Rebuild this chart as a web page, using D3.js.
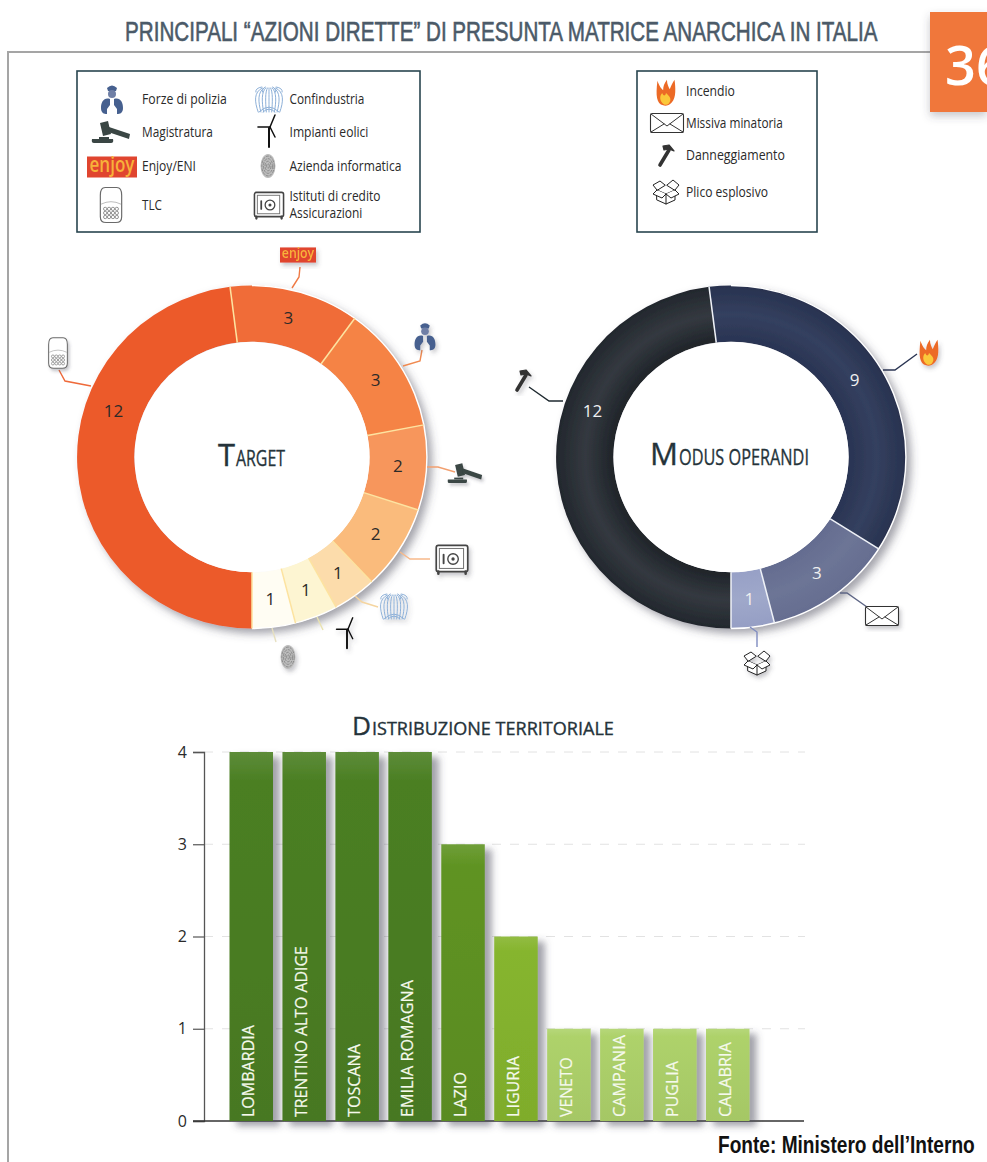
<!DOCTYPE html>
<html><head><meta charset="utf-8">
<script src="https://cdn.jsdelivr.net/npm/d3@7/dist/d3.min.js"></script>
<style>html,body{margin:0;padding:0;background:#fff;overflow:hidden}svg{display:block}text{font-family:"Open Sans",sans-serif}</style>
</head><body><svg id="c" width="987" height="1162"></svg>
<script>
// ---- data ----
const targetNames=["TLC","Enjoy/ENI","Forze di polizia","Magistratura","Istituti di credito Assicurazioni","Confindustria","Impianti eolici","Azienda informatica"];
const targetValues=[12,3,3,2,2,1,1,1];
const targetColors=["#ec5a2c","#f06c38","#f58345","#f7965b","#fabb7c","#fcdcab","#fdf5d2","#fffdf3"];
const modusNames=["Danneggiamento","Incendio","Missiva minatoria","Plico esplosivo"];
const modusValues=[12,9,3,1];
const regions=["LOMBARDIA","TRENTINO ALTO ADIGE","TOSCANA","EMILIA ROMAGNA","LAZIO","LIGURIA","VENETO","CAMPANIA","PUGLIA","CALABRIA"];
const regionValues=[4,4,4,4,3,2,1,1,1,1];
const regionColors=["#4b7f23","#4b7f23","#4b7f23","#4b7f23","#5f9322","#86b52e","#aed26b","#aed26b","#aed26b","#aed26b"];
const yTicks=[0,1,2,3,4];

const svg=d3.select("#c"),defs=svg.append("defs");
const shadow=(id,dx,dy,b,o)=>{defs.append("filter").attr("id",id).attr("x","-30%").attr("y","-20%").attr("width","170%").attr("height","150%")
 .append("feDropShadow").attr("dx",dx).attr("dy",dy).attr("stdDeviation",b).attr("flood-color","#445").attr("flood-opacity",o)};
shadow("ds",5,5,4,.5);shadow("bs",7,5,3.5,.5);shadow("is",2,3,2,.3);shadow("tab",0,4,4,.3);
const radial=(id,a,b,c)=>{const g=defs.append("radialGradient").attr("id",id).attr("gradientUnits","userSpaceOnUse").attr("cx",0).attr("cy",0).attr("r",172);
 [[.67,a],[.83,b],[1,c]].forEach(s=>g.append("stop").attr("offset",s[0]).attr("stop-color",s[1]))};
radial("m0","#1f2429","#343940","#22272d");radial("m1","#2a3453","#34405f","#28324f");radial("m2","#646c90","#6d7596","#656d90");radial("m3","#97a0c6","#9fa8ca","#959ec4");
const modusFills=["url(#m0)","url(#m1)","url(#m2)","url(#m3)"];
regionColors.forEach((c,i)=>{const g=defs.append("linearGradient").attr("id","b"+i).attr("x1",0).attr("x2",0).attr("y1",0).attr("y2",1);
 const h=d3.color(c);[[0,d3.interpolateRgb(c,"#fff")(.1)],[.08,c],[1,h.darker(.15)]].forEach(s=>g.append("stop").attr("offset",s[0]).attr("stop-color",s[1]));});

// ---- text helper: squeezes a text to a measured width ----
function fit(sel,x,y,len,rot){const w=sel.node().getComputedTextLength()||len;
 return sel.attr("text-anchor","start").attr("transform",`translate(${x},${y})${rot?` rotate(${rot})`:""} scale(${len/w},1)`)}
const NARROW='"Liberation Sans Narrow","Liberation Sans",sans-serif';

// ---- icons, drawn around 0,0 ----
const P=(g,d,f,s,w)=>g.append("path").attr("d",d).attr("fill",f||"none").attr("stroke",s||"none").attr("stroke-width",w||1).attr("stroke-linejoin","round").attr("stroke-linecap","round");
const icons={
 police(g){const c="#46608f";
  P(g,"M-5,-12 Q0,-17 5,-12 L4,-9 L-4,-9Z",c);g.append("circle").attr("cy",-6).attr("r",4).attr("fill","#6f7fa6");
  P(g,"M-2,-1 C-8,-3 -11,2 -11,8 C-11,13 -8,14 -5,14 L-5,9 L-2,5Z",c);
  P(g,"M2,-1 C8,-3 11,2 11,8 C11,13 8,14 5,14 L5,9 L2,5Z",c);},
 gavel(g){const c="#3a4644";
  P(g,"M-11,-10 L-3,-12 L0,1 L-8,3Z",c);P(g,"M-2,-6 L19,1 L18,6 L-3,-1Z",c);
  P(g,"M-12,4 L-2,4 L-2,6 L-12,6Z",c);P(g,"M-19,6 L2,6 Q3,10 0,10 L-17,10 Q-20,10 -19,6Z",c);},
 enjoy(g,s){const w=50*s,h=21*s;g.append("rect").attr("x",-w/2).attr("y",-h/2).attr("width",w).attr("height",h).attr("fill","#e0452f");
  fit(g.append("text").text("enjoy").attr("font-size",21*s).attr("font-weight",600).attr("fill","#f7b23a"),-22.5*s,4.5*s,45*s);},
 phone(g){P(g,"M-11,-10 Q-11,-18 -6,-18 L6,-18 Q11,-18 11,-10 L11,12 Q11,18 5,18 L-5,18 Q-11,18 -11,12Z","#fff","#6a6a6a",1.2);
  P(g,"M-10,-1 Q0,-6 10,-1","none","#aaa",.8);
  d3.range(3).forEach(r=>d3.range(4).forEach(k=>g.append("circle").attr("cx",-6+k*4).attr("cy",4+r*4.2).attr("r",1.7).attr("fill","none").attr("stroke","#777").attr("stroke-width",.8)));},
 confind(g){const c="#8db0d8";
  [-12,-9,-6,-3,0,3,6,9,12].forEach(x=>P(g,`M${x*.55},-12 C${x*1.3},-8 ${x*1.2},2 ${x*.9},12`,"none",c,1));
  [-6,-3,3,6].forEach(x=>P(g,`M${x*2.2},-8 Q${x*2.3},-12 ${x*1.2},-13`,"none",c,1));
  P(g,"M-10,12 Q0,2 10,12","none",c,1);P(g,"M-6,12 Q0,6 6,12","none",c,1);},
 turbine(g){P(g,"M0,-3 L0,16","none","#111",2);P(g,"M1,-4 L6,-16","none","#111",1.5);P(g,"M1,-4 L-11,-4","none","#111",1.6);P(g,"M1,-4 L6,6","none","#111",1.5);},
 finger(g){g.append("ellipse").attr("rx",7.5).attr("ry",12).attr("fill","#bcbcbc");
  [6.2,4.6,3,1.4].forEach(k=>g.append("ellipse").attr("rx",k).attr("ry",k*1.6).attr("fill","none").attr("stroke","#808080").attr("stroke-width",.8).attr("stroke-dasharray","3 1"));},
 safe(g){g.append("rect").attr("x",-15).attr("y",-13).attr("width",30).attr("height",25).attr("rx",2).attr("fill","#fff").attr("stroke","#444").attr("stroke-width",1.6);
  g.append("rect").attr("x",-12).attr("y",-10).attr("width",23).attr("height",19).attr("fill","none").attr("stroke","#777");
  g.append("circle").attr("cx",1).attr("r",5).attr("fill","none").attr("stroke","#444").attr("stroke-width",1.3);g.append("circle").attr("cx",1).attr("r",1.6).attr("fill","#444");
  P(g,"M-8,-4 L-8,4","none","#444",1.8);P(g,"M-13,12 L-13,14 M13,12 L13,14","none","#444",2.4);},
 fire(g){P(g,"M-3,13 C-10,11 -11,3 -9,-13 C-7,-7 -5,-5 -3,-3 C-3,-7 -2,-10 1,-14 C1,-9 3,-6 4,-4 C5,-7 7,-11 9,-14 C10,-6 11,5 6,10 C3,13 0,14 -3,13Z","#ec6a26");
  P(g,"M-2,12 C-7,9 -7,3 -4,0 C-3,3 -1,4 0,0 C3,3 7,6 3,11 C2,12 -1,13 -2,12Z","#fbc83a");},
 envelope(g){g.append("rect").attr("x",-16.5).attr("y",-9.5).attr("width",33).attr("height",19).attr("rx",2).attr("fill","#fff").attr("stroke","#333").attr("stroke-width",1.1);
  P(g,"M-16,-9 L0,3 L16,-9 M-16,9 L-3,1 M16,9 L3,1","none","#333",1);},
 hammer(g){P(g,"M3,-5 L-6,10","none","#333",3.6);P(g,"M-3,-9 L3,-10 L8,-4 L3,-6 L-2,-5Z","#333","#333",1.2);},
 box(g){const c="#222";P(g,"M-9,-1 L0,3 L9,-1 L9,9 L0,13 L-9,9Z","#fff",c,1);P(g,"M0,3 L0,13","none",c,1);
  P(g,"M-9,-1 L-13,-6 L-6,-10 L-1,-6Z M-9,-1 L-13,3 L-4,7 L0,3","#fff",c,1);P(g,"M9,-1 L13,-6 L7,-11 L1,-6Z M9,-1 L13,3 L5,7 L0,3","#fff",c,1);}
};
function icon(name,x,y,s,shadowed){const g=svg.append("g").attr("transform",`translate(${x},${y})`+(name==="enjoy"?"":` scale(${s})`));
 if(shadowed)g.attr("filter","url(#is)");icons[name](g,s);return g;}

// ---- page frame ----
svg.append("path").attr("d","M8,1162 L8,52 L930,52").attr("fill","none").attr("stroke","#a5a5a5").attr("stroke-width",2);
fit(svg.append("text").text("PRINCIPALI “AZIONI DIRETTE” DI PRESUNTA MATRICE ANARCHICA IN ITALIA").attr("font-size",27).attr("fill","#4b5a68").style("font-family",NARROW).attr("stroke","#4b5a68").attr("stroke-width",.6),125,41,753);
svg.append("rect").attr("x",930).attr("y",12).attr("width",57).attr("height",100).attr("fill","#f0773a").attr("filter","url(#tab)");
svg.append("text").text("36").attr("x",945).attr("y",85).attr("font-size",54).attr("font-weight",600).attr("fill","#fff");

// ---- legends ----
const legendBox=(x,y,w,h)=>svg.append("rect").attr("x",x).attr("y",y).attr("width",w).attr("height",h).attr("fill","#fff").attr("stroke","#28454f").attr("stroke-width",1.6);
legendBox(77,71,343,161);legendBox(637,71,180,161);
const legText=(t,x,y,len)=>fit(svg.append("text").text(t).attr("font-size",14).attr("fill","#2a2a2a"),x,y,len);
icon("police",112,100,1);legText("Forze di polizia",142,104,85);
icon("gavel",111,133,1);legText("Magistratura",142,137,71);
icon("enjoy",112,167,1);legText("Enjoy/ENI",142,171,54);
icon("phone",111,205,.97);legText("TLC",142,210,20);
icon("confind",269,100,1);legText("Confindustria",289.5,104,75);
icon("turbine",269,131,1);legText("Impianti eolici",289.5,137,79);
icon("finger",268,166,1);legText("Azienda informatica",289.5,171,112);
icon("safe",269,205,.97);legText("Istituti di credito",289.5,201,91);legText("Assicurazioni",289.5,218,73);
icon("fire",666,93,.95);legText("Incendio",686,96,49);
icon("envelope",667,123,1);legText("Missiva minatoria",686,128,97);
icon("hammer",666,155,1);legText("Danneggiamento",686,160,99);
icon("box",666,191,1);legText("Plico esplosivo",686,197,82);

// ---- donuts ----
const R=171.5,r=115.3,cy=457,stretch=1.02;
const pie=d3.pie().sort(null).startAngle(Math.PI).endAngle(3*Math.PI);
const arc=d3.arc().innerRadius(r).outerRadius(R);
function donut(cx,values,fills,sep,textColor){
 const g=svg.append("g").attr("transform",`translate(${cx},${cy})`);
 const arcs=pie(values);
 const ring=g.append("g").attr("transform",`scale(${stretch},1)`);
 ring.append("g").attr("filter","url(#ds)").selectAll("path").data(arcs).join("path").attr("d",arc).attr("fill",(d,i)=>fills[i]);
 ring.append("circle").attr("r",r).attr("fill","#fff");
 ring.append("path").attr("d",d3.arc().innerRadius(R).outerRadius(R).startAngle(0).endAngle(Math.PI)()).attr("fill","none").attr("stroke","#fff").attr("stroke-width",1.4);
 ring.selectAll("line").data(arcs).join("line")
  .attr("x1",d=>r*Math.sin(d.startAngle)).attr("y1",d=>-r*Math.cos(d.startAngle))
  .attr("x2",d=>R*Math.sin(d.startAngle)).attr("y2",d=>-R*Math.cos(d.startAngle))
  .attr("stroke",sep).attr("stroke-width",1.5);
 g.selectAll("text").data(arcs).join("text").text(d=>d.data)
  .attr("transform",(d,i)=>{const f=i===0?.63:.5;const a=d.startAngle+(d.endAngle-d.startAngle)*f;const m=(R+r)/2;return `translate(${m*stretch*Math.sin(a)},${-m*Math.cos(a)})`})
  .attr("dy","0.36em").attr("text-anchor","middle").attr("font-size",17).attr("fill",textColor);
}
donut(252,targetValues,targetColors,"#fde3a0","#2d2a28");
donut(731,modusValues,modusFills,"#eef1f7","#f0f0f0");

const leader=(pts,c)=>svg.append("path").attr("d",d3.line()(pts)).attr("fill","none").attr("stroke",c).attr("stroke-width",1.4);
leader([[292,288],[299,277],[300,267]],"#ef7a45");icon("enjoy",298,255,.72,true);
leader([[403,366],[420,361],[422,350]],"#f08a50");icon("police",425,337,.95,true);
leader([[427,467],[438,467],[455,472]],"#f2a070");icon("gavel",465,474,.9,true);
leader([[400,552],[410,559],[430,559]],"#f7b98a");icon("safe",452,559,1.05,true);
leader([[355,596],[362,602],[378,607]],"#f5d5a0");icon("confind",394,607,1,true);
leader([[317,617],[323,630]],"#e9e2b0");icon("turbine",347,633,.95,true);
leader([[272,628],[276,642]],"#e6e0c0");icon("finger",288,657,1,true);
leader([[91,386],[65,381],[59,370]],"#ef6a3a");icon("phone",58,353,.85,true);
leader([[883,370],[895,370],[917,354]],"#2b3553");icon("fire",929,353,.95,true);
leader([[563,401],[549,401],[529,387]],"#1f2a30");icon("hammer",523,380,1,true);
leader([[840,593],[847,593],[867,607]],"#5d6585");icon("envelope",882,616,1,true);
leader([[750,627],[757,632],[757,647]],"#7f8cc0");icon("box",757,662,1,true);

function capsTitle(big,small,x,y,lenBig,lenSmall,sizeBig,sizeSmall){
 const st=t=>t.attr("fill","#25333a").attr("stroke","#25333a").attr("stroke-width",.35);
 fit(st(svg.append("text").text(big).attr("font-size",sizeBig)),x,y,lenBig);
 fit(st(svg.append("text").text(small).attr("font-size",sizeSmall)),x+lenBig+1,y,lenSmall);}
capsTitle("T","ARGET",218,466,17,49,31,22);
capsTitle("M","ODUS OPERANDI",650,465,28,130,31,22);
capsTitle("D","ISTRIBUZIONE TERRITORIALE",352,735,19,242,26,18);

// ---- bars ----
const x=d3.scaleBand().domain(regions).range([229.5,749.5]).paddingInner(.178).paddingOuter(0);
const y=d3.scaleLinear().domain([0,4]).range([1121,752]);
svg.append("g").selectAll("line").data(yTicks.slice(1)).join("line").attr("x1",204).attr("x2",805).attr("y1",y).attr("y2",y).attr("stroke","#e2e2e2").attr("stroke-dasharray","9 9");
const axis=svg.append("g").attr("transform","translate(204,0)").call(d3.axisLeft(y).tickValues(yTicks).tickFormat(d3.format("d")).tickSize(11).tickPadding(6));
axis.select(".domain").attr("stroke","#555").attr("stroke-width",1.3);
axis.selectAll(".tick line").attr("stroke","#555").attr("stroke-width",1.2);
axis.selectAll("text").attr("font-size",16).attr("fill","#2a2a2a").style("font-family",'"Open Sans",sans-serif');
svg.append("line").attr("x1",193).attr("x2",804).attr("y1",y(0)).attr("y2",y(0)).attr("stroke","#333").attr("stroke-width",1.6);
svg.append("g").selectAll("rect").data(regions).join("rect").attr("x",d=>x(d)).attr("width",x.bandwidth())
 .attr("y",(d,i)=>y(regionValues[i])).attr("height",(d,i)=>y(0)-y(regionValues[i])).attr("fill",(d,i)=>`url(#b${i})`).attr("filter","url(#bs)");
const labelLen=[92,171,73,137,45,61,60,82,56,75];
const labelG=svg.append("g");
regions.forEach((d,i)=>fit(labelG.append("text").text(d).attr("font-size",17).attr("fill","#f5f9ec").attr("stroke","#f5f9ec").attr("stroke-width",.2),x(d)+x.bandwidth()/2+3,1117,labelLen[i],-90));
fit(svg.append("text").text("Fonte: Ministero dell’Interno").attr("font-size",23).attr("font-weight",700).attr("fill","#111").style("font-family",NARROW),718,1153,257);
</script></body></html>
